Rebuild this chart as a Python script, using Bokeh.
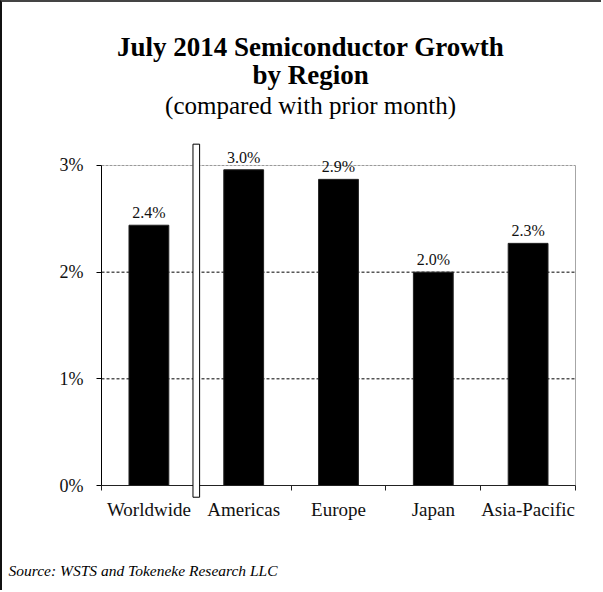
from bokeh.plotting import figure
from bokeh.models import (Range1d, FixedTicker, BoxAnnotation, Label, LabelSet,
                          ColumnDataSource)
from bokeh.core.properties import value
from bokeh.embed import file_html
from bokeh.resources import INLINE

# ---- data ----
categories = ["Worldwide", "Americas", "Europe", "Japan", "Asia-Pacific"]
values = [2.44, 2.96, 2.87, 2.0, 2.27]          # % growth vs prior month
y_ticks = [0, 1, 2, 3]
y_tick_labels = ["0%", "1%", "2%", "3%"]

title_line1 = "July 2014 Semiconductor Growth"
title_line2 = "by Region"
subtitle = "(compared with prior month)"
source_note = "Source: WSTS and Tokeneke Research LLC"

SERIF = "Liberation Serif"

# ---- layout (pixels) ----
W, H = 601, 590              # canvas (page has a 2px border on top/left)
AX_LEFT, AX_BOTTOM = 99, 483  # canvas position of the data origin
PX_X, PX_Y = 94.8, 106.667    # pixels per category / per 1%

n = len(categories)
y_max = max(y_ticks)
xs = [i + 0.5 for i in range(n)]
labels = ["%.1f%%" % v for v in values]
src = ColumnDataSource(dict(x=xs, top=values, label=labels))

p = figure(width=W, height=H, output_backend="svg", toolbar_location=None,
           x_range=Range1d(-AX_LEFT / PX_X, (W - AX_LEFT) / PX_X),
           y_range=Range1d(-(H - AX_BOTTOM) / PX_Y, AX_BOTTOM / PX_Y),
           min_border_left=0, min_border_right=0,
           min_border_top=0, min_border_bottom=0)
p.background_fill_color = "white"
p.border_fill_color = "white"
p.outline_line_color = None
p.styles = {"border-top": "2px solid #444444", "border-left": "2px solid #111111"}
p.xgrid.visible = False
p.ygrid.visible = False

# gridlines inside the plot area (behind the bars)
inner = [t for t in y_ticks if 0 < t < y_max]
p.segment(x0=[0] * len(inner), x1=[n] * len(inner), y0=inner, y1=inner,
          line_color="black", line_dash="3 2", line_width=1)
# top edge (3%) and right edge of the plot area
p.segment(x0=[0], x1=[n], y0=[y_max], y1=[y_max],
          line_color="#999999", line_dash="3 1", line_width=1)
p.segment(x0=[n], x1=[n], y0=[0], y1=[y_max],
          line_color="#a6a6a6", line_width=1)

# bars
p.vbar(x="x", top="top", width=0.42, bottom=0, source=src,
       fill_color="black", line_color="#222222", line_width=1)

# value labels
p.add_layout(LabelSet(x="x", y="top", text="label", source=src,
                      text_align="center", text_baseline="alphabetic",
                      y_offset=7, text_font=value(SERIF), text_font_size="16px",
                      text_color="#111111"))

# y axis
p.yaxis.fixed_location = 0
p.yaxis.bounds = (0, y_max)
p.yaxis.ticker = FixedTicker(ticks=y_ticks)
p.yaxis.major_label_overrides = {t: l for t, l in zip(y_ticks, y_tick_labels)}
p.yaxis.major_tick_out = 5
p.yaxis.major_tick_in = 0
p.yaxis.minor_tick_line_color = None
p.yaxis.axis_line_color = "black"
p.yaxis.major_tick_line_color = "black"
p.yaxis.major_label_standoff = 13
p.yaxis.major_label_text_font = SERIF
p.yaxis.major_label_text_font_size = "18px"
p.yaxis.major_label_text_color = "#111111"

# x axis: labels at slot centres, tick marks at slot boundaries
p.xaxis.fixed_location = 0
p.xaxis.bounds = (0, n)
p.xaxis.ticker = FixedTicker(ticks=xs, minor_ticks=list(range(n + 1)))
p.xaxis.major_label_overrides = {x: c for x, c in zip(xs, categories)}
p.xaxis.major_tick_line_color = None
p.xaxis.major_tick_out = 0
p.xaxis.major_tick_in = 0
p.xaxis.minor_tick_line_color = "#222222"
p.xaxis.minor_tick_out = 5
p.xaxis.minor_tick_in = 0
p.xaxis.axis_line_color = "#222222"
p.xaxis.major_label_standoff = 8
p.xaxis.major_label_text_font = SERIF
p.xaxis.major_label_text_font_size = "19px"
p.xaxis.major_label_text_color = "#111111"

# separator between Worldwide and Americas
p.add_layout(BoxAnnotation(left=0.965, right=1.035, bottom=-0.11, top=3.2,
                           fill_color="white", fill_alpha=1.0,
                           line_color="black", line_width=1, line_alpha=1.0,
                           level="overlay"))

# titles (data units)
title_x = 2.205
for txt, ty, size, style in [(title_line1, 4.115, "27px", "bold"),
                             (title_line2, 3.845, "27px", "bold"),
                             (subtitle, 3.56, "25px", "normal")]:
    p.add_layout(Label(x=title_x, y=ty, text=txt, text_align="center",
                       text_baseline="alphabetic", text_font=SERIF,
                       text_font_size=size, text_font_style=style,
                       text_color="black"))

# source note
p.add_layout(Label(x=-0.981, y=-0.80, text=source_note, text_align="left",
                   text_baseline="alphabetic", text_font=SERIF,
                   text_font_size="15.5px", text_font_style="italic",
                   text_color="black"))

open("out.html", "w").write(file_html(p, INLINE))
